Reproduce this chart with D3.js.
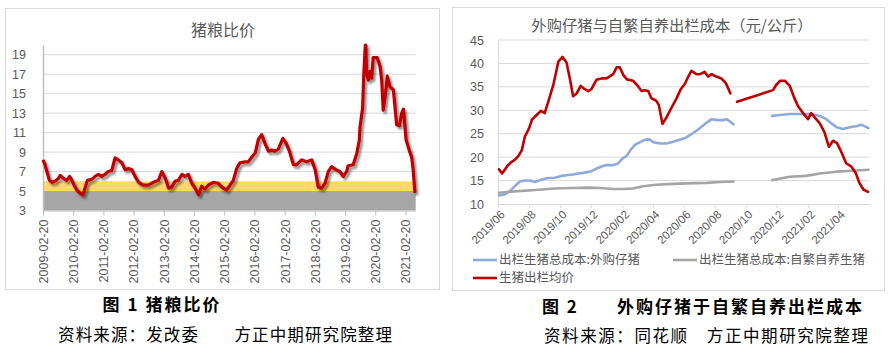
<!DOCTYPE html>
<html><head><meta charset="utf-8">
<script src="https://cdn.jsdelivr.net/npm/d3@7"></script>
<style>body{margin:0;background:#fff}svg{display:block}</style>
</head><body>
<svg id="c" width="892" height="358"></svg>
<script>
// ---------- Chart 1: 猪粮比价 ----------
const ratioTitle = "猪粮比价";
const ratioDates = ["2009-02-20","2009-03-17","2009-04-08","2009-05-08","2009-06-08","2009-07-17","2009-08-26","2009-09-16","2009-10-26","2009-12-05",
"2010-01-08","2010-02-05","2010-03-03","2010-04-05","2010-05-14","2010-06-17","2010-07-14","2010-08-10","2010-10-04","2010-11-12","2010-12-22",
"2011-01-31","2011-03-12","2011-04-20","2011-06-01","2011-07-11","2011-08-20","2011-10-01","2011-11-10","2011-12-20",
"2012-01-29","2012-03-09","2012-04-20","2012-06-17","2012-08-17","2012-10-17","2012-12-17",
"2013-01-26","2013-03-10","2013-04-18","2013-05-27","2013-07-05","2013-08-14","2013-09-26","2013-11-05","2013-12-14",
"2014-01-23","2014-03-06","2014-04-15","2014-05-24","2014-07-03","2014-08-11","2014-10-11","2014-12-11",
"2015-01-23","2015-03-20","2015-05-02","2015-06-10","2015-07-20","2015-08-29","2015-10-29","2015-12-08",
"2016-01-20","2016-02-29","2016-04-08","2016-05-18","2016-06-26","2016-08-08","2016-09-17","2016-10-26","2016-12-05",
"2017-01-29","2017-03-10","2017-04-18","2017-06-05","2017-07-14","2017-09-13","2017-11-13",
"2018-01-13","2018-02-23","2018-04-02","2018-05-14","2018-06-23","2018-08-01","2018-09-10","2018-11-01","2018-12-20",
"2019-01-29","2019-03-11","2019-03-29","2019-05-29","2019-07-10","2019-08-11","2019-08-20","2019-09-20","2019-10-05","2019-10-23","2019-10-29","2019-11-07","2019-11-29","2019-12-17",
"2020-01-08","2020-01-26","2020-03-15","2020-04-18","2020-05-08","2020-05-26","2020-06-29","2020-07-14","2020-08-17","2020-09-26","2020-11-05","2020-12-08",
"2021-01-05","2021-01-26","2021-02-26","2021-04-05","2021-05-05","2021-05-23","2021-06-14"];
const ratioValues = [8.2,7.7,7.0,6.1,5.9,6.0,6.3,6.6,6.3,6.1,
6.5,6.1,5.6,5.1,4.8,4.6,5.3,6.1,6.2,6.5,6.7,
6.5,6.7,7.0,7.1,8.4,8.2,7.9,7.2,7.3,
7.2,6.5,5.9,5.6,5.6,5.9,6.1,
7.0,6.3,5.3,5.4,6.0,6.1,6.7,6.5,6.7,
5.8,5.3,4.6,5.5,5.2,5.6,5.9,5.8,
5.4,5.1,5.6,6.1,7.3,7.9,8.0,8.0,
8.5,8.9,10.3,10.8,9.9,9.1,9.2,9.1,9.3,
10.4,9.9,9.1,7.7,7.7,8.2,8.0,
8.2,7.2,5.4,5.3,5.8,7.0,7.5,7.2,7.0,
6.5,7.0,7.6,7.7,8.8,10.2,11.6,13.5,17.1,20.0,20.0,17.1,16.4,17.3,
16.6,18.7,18.7,17.8,16.4,13.3,15.4,16.8,15.7,15.4,11.8,11.7,
13.0,13.4,10.3,9.2,8.5,7.2,4.8];
const ratioTickLabels = ["2009-02-20","2010-02-20","2011-02-20","2012-02-20","2013-02-20","2014-02-20","2015-02-20","2016-02-20","2017-02-20","2018-02-20","2019-02-20","2020-02-20","2021-02-20"];
const ratioYTicks = [3,5,7,9,11,13,15,17,19];
const ratioBands = [{lo:3, hi:5, color:"#A6A6A6"},{lo:5, hi:6, color:"#FFD966"}];
const ratioCaption = "图 1  猪粮比价";
const ratioSource = "资料来源：发改委　　方正中期研究院整理";

// ---------- Chart 2: 外购仔猪与自繁自养出栏成本 ----------
const costTitle = "外购仔猪与自繁自养出栏成本（元/公斤）";
const priceDates = ["2019-06-03","2019-06-09","2019-06-21","2019-06-28","2019-07-04","2019-07-11","2019-07-18","2019-07-24","2019-08-01","2019-08-07","2019-08-16","2019-08-25",
"2019-09-01","2019-09-08","2019-09-18","2019-09-28","2019-10-06","2019-10-14","2019-10-21","2019-10-27","2019-11-03","2019-11-11","2019-11-19","2019-11-26","2019-12-02","2019-12-12","2019-12-22",
"2020-01-01","2020-01-14","2020-01-21","2020-01-27","2020-02-03","2020-02-10","2020-02-22","2020-03-01","2020-03-10","2020-03-16","2020-03-23","2020-03-29","2020-04-08","2020-04-13","2020-04-20","2020-04-28",
"2020-05-08","2020-05-18","2020-05-26","2020-06-03","2020-06-10","2020-06-16","2020-06-26","2020-07-03","2020-07-12","2020-07-19","2020-07-26","2020-08-04","2020-08-14","2020-08-23","2020-09-01",
"2020-09-07","2020-09-14","2020-11-24","2020-11-30","2020-12-08","2020-12-17","2020-12-27",
"2021-01-05","2021-01-12","2021-01-22","2021-02-01","2021-02-07","2021-02-14","2021-02-24","2021-03-05","2021-03-14","2021-03-22","2021-03-30","2021-04-07","2021-04-17","2021-04-27","2021-05-06","2021-05-13","2021-05-21","2021-05-30"];
const priceValues = [17.4,16.5,18.3,19.0,19.4,20.2,21.5,24.4,26.1,28.0,29.0,29.9,
29.4,31.8,35.4,40.4,41.4,40.2,36.5,33.0,33.6,35.2,34.5,34.1,34.5,36.5,36.8,
36.8,37.7,39.2,39.2,37.5,36.6,36.3,35.4,34.1,34.3,34.1,32.6,32.0,31.1,27.1,28.5,
30.6,32.6,34.5,35.6,37.2,38.4,37.7,37.7,38.2,37.2,37.7,37.2,36.8,35.8,33.6,
null,31.8,34.3,35.4,36.3,36.3,35.2,
32.6,30.9,29.4,28.1,29.4,28.5,27.2,25.4,22.2,23.5,23.0,21.2,18.7,18.0,16.6,14.5,13.1,12.6];
const boughtDates = ["2019-06-03","2019-06-15","2019-06-25","2019-07-04","2019-07-14","2019-07-24","2019-08-03","2019-08-13","2019-08-23","2019-09-05","2019-09-21","2019-10-04","2019-10-17","2019-10-27","2019-11-06","2019-11-19","2019-12-02","2019-12-15","2019-12-25",
"2020-01-01","2020-01-14","2020-01-24","2020-02-01","2020-02-09","2020-02-17","2020-02-26","2020-03-05","2020-03-16","2020-03-25","2020-04-02","2020-04-15","2020-04-28","2020-05-11","2020-05-24","2020-06-06","2020-06-19","2020-07-03","2020-07-14","2020-07-26","2020-08-08","2020-08-17","2020-08-24","2020-08-31","2020-09-07",
"2020-10-15","2020-11-22","2020-12-07","2020-12-27","2021-01-15","2021-02-07","2021-02-24","2021-03-09","2021-03-19","2021-03-29","2021-04-11","2021-04-24","2021-05-07","2021-05-17","2021-05-25","2021-05-31"];
const boughtValues = [11.8,12.1,12.8,13.8,14.8,15.0,15.0,14.7,15.1,15.5,15.6,16.0,16.2,16.3,16.5,16.7,17.0,17.7,18.1,
18.3,18.3,18.7,19.7,20.2,21.5,22.6,23.1,23.7,23.8,23.2,22.9,22.9,23.3,23.7,24.2,25.1,26.2,27.2,28.1,27.9,27.9,28.1,27.6,27.0,
null,28.8,29.0,29.2,29.2,29.2,28.8,28.1,27.2,26.4,26.0,26.4,26.6,26.9,26.5,26.2];
const selfDates = ["2019-06-03","2019-07-04","2019-08-13","2019-09-21","2019-10-24","2019-11-26","2019-12-19",
"2020-01-14","2020-02-03","2020-02-22","2020-03-13","2020-04-08","2020-05-11","2020-06-06","2020-07-16","2020-08-11","2020-09-07",
"2020-10-15","2020-11-22","2020-12-27","2021-01-28","2021-02-24","2021-03-29","2021-04-30","2021-05-31"];
const selfValues = [12.4,12.7,13.0,13.3,13.4,13.5,13.4,
13.2,13.2,13.3,13.8,14.1,14.3,14.4,14.5,14.7,14.8,
null,15.1,15.8,16.0,16.5,16.9,17.1,17.3];
const costTickLabels = ["2019/06","2019/08","2019/10","2019/12","2020/02","2020/04","2020/06","2020/08","2020/10","2020/12","2021/02","2021/04"];
const costYTicks = [10,15,20,25,30,35,40,45];
const costSeriesNames = ["出栏生猪总成本:外购仔猪","出栏生猪总成本:自繁自养生猪","生猪出栏均价"];
const costColors = ["#8EA9DB","#A5A5A5","#C00000"];
const costCaption = "图 2　　外购仔猪于自繁自养出栏成本";
const costSource = "资料来源：同花顺　方正中期研究院整理";

// ---------- drawing ----------
const svg = d3.select("#c");
const numFont = "'Liberation Sans', 'Noto Sans CJK SC', sans-serif";
const cjkFont = "'Noto Sans CJK SC', sans-serif";
const txt = "#595959", grid = "#D9D9D9";
const parseD = d3.timeParse("%Y-%m-%d");

const defs = svg.append("defs");
const f = defs.append("filter").attr("id","shadow").attr("x","-5%").attr("y","-5%").attr("width","120%").attr("height","120%");
f.append("feDropShadow").attr("dx",2).attr("dy",2.5).attr("stdDeviation",1.3).attr("flood-color","#000").attr("flood-opacity",0.45);

// Frames
svg.append("rect").attr("x",5.5).attr("y",8.5).attr("width",434).attr("height",281).attr("fill","none").attr("stroke","#D9D9D9");
svg.append("rect").attr("x",452.5).attr("y",7.5).attr("width",432).attr("height",283).attr("fill","none").attr("stroke","#D9D9D9");

// ===== Chart 1 =====
{
  const x = d3.scaleTime().domain([parseD("2009-02-20"), parseD("2021-06-23")]).range([43, 415.7]);
  const y = d3.scaleLinear().domain([3, 20]).range([210.5, 45]);
  const g = svg.append("g");
  g.append("text").attr("x",223).attr("y",36).attr("text-anchor","middle").attr("font-family",cjkFont)
    .attr("font-size",16).attr("fill",txt).text(ratioTitle);
  g.selectAll("rect.band").data(ratioBands).join("rect").attr("class","band")
    .attr("x",x.range()[0]).attr("width",x.range()[1]-x.range()[0])
    .attr("y",d=>y(d.hi)).attr("height",d=>y(d.lo)-y(d.hi)).attr("fill",d=>d.color);
  g.selectAll("line.grid").data(ratioYTicks.filter(v=>v>6)).join("line").attr("class","grid")
    .attr("x1",x.range()[0]).attr("x2",x.range()[1]).attr("y1",d=>y(d)).attr("y2",d=>y(d))
    .attr("stroke",grid).attr("stroke-width",1);
  const ya = g.append("g").attr("transform","translate(43,0)")
    .call(d3.axisLeft(y).tickValues(ratioYTicks).tickSize(0).tickPadding(17));
  ya.select(".domain").attr("stroke","#BFBFBF").attr("stroke-width",1.5);
  ya.selectAll("text").attr("font-family",numFont).attr("font-size",12.5).attr("fill",txt);
  const xa = g.append("g").attr("transform","translate(0,210.5)")
    .call(d3.axisBottom(x).tickValues(ratioTickLabels.map(parseD)).tickFormat(d3.timeFormat("%Y-%m-%d")).tickSize(5).tickSizeOuter(0));
  xa.select(".domain").attr("stroke","#BFBFBF");
  xa.selectAll("line").attr("stroke","#BFBFBF");
  xa.selectAll("text").attr("font-family",numFont).attr("font-size",12.5).attr("fill",txt)
    .attr("transform","rotate(-90)").attr("text-anchor","end").attr("x",-9).attr("y",0).attr("dy","0.35em");
  const data = ratioDates.map((d,i)=>({d:parseD(d), v:ratioValues[i]}));
  g.append("path").datum(data).attr("fill","none").attr("stroke","#C00000").attr("stroke-width",3.2)
    .attr("stroke-linejoin","round").attr("filter","url(#shadow)")
    .attr("d", d3.line().x(d=>x(d.d)).y(d=>y(d.v)));
  g.append("text").attr("x",161).attr("y",311).attr("text-anchor","middle").attr("font-family",cjkFont)
    .attr("font-weight",700).attr("font-size",17).attr("fill","#000")
    .attr("textLength",117).attr("lengthAdjust","spacing").text(ratioCaption);
  g.append("text").attr("x",225).attr("y",341).attr("text-anchor","middle").attr("font-family",cjkFont)
    .attr("font-size",16.5).attr("fill","#000")
    .attr("textLength",334).attr("lengthAdjust","spacing").text(ratioSource);
}

// ===== Chart 2 =====
{
  const x = d3.scaleTime().domain([parseD("2019-06-01"), parseD("2021-06-01")]).range([498, 869]);
  const y = d3.scaleLinear().domain([10, 45]).range([204, 40]);
  const g = svg.append("g");
  g.append("text").attr("x",672).attr("y",31).attr("text-anchor","middle").attr("font-family",cjkFont)
    .attr("font-size",15.3).attr("fill",txt).text(costTitle);
  g.selectAll("line.grid").data(costYTicks.filter(v=>v>10)).join("line").attr("class","grid")
    .attr("x1",x.range()[0]).attr("x2",x.range()[1]).attr("y1",d=>y(d)).attr("y2",d=>y(d))
    .attr("stroke",grid).attr("stroke-width",1);
  const ya = g.append("g").attr("transform","translate(498,0)")
    .call(d3.axisLeft(y).tickValues(costYTicks).tickSize(0).tickPadding(14));
  ya.select(".domain").attr("stroke","#D9D9D9");
  ya.selectAll("text").attr("font-family",numFont).attr("font-size",12.5).attr("fill",txt);
  const pm = d3.timeParse("%Y/%m");
  const xa = g.append("g").attr("transform","translate(0,204)")
    .call(d3.axisBottom(x).tickValues(costTickLabels.map(pm)).tickFormat(d3.timeFormat("%Y/%m")).tickSize(4).tickSizeOuter(0));
  xa.select(".domain").attr("stroke","#D9D9D9");
  xa.selectAll("line").attr("stroke","#D9D9D9");
  xa.selectAll("text").attr("font-family",numFont).attr("font-size",11.5).attr("fill",txt)
    .attr("transform","rotate(-45)").attr("text-anchor","end").attr("x",-3).attr("y",9).attr("dy","0.35em");
  const line = d3.line().defined(d=>d.v!=null).x(d=>x(d.d)).y(d=>y(d.v));
  const series = [
    {dates:boughtDates, vals:boughtValues, color:costColors[0]},
    {dates:selfDates, vals:selfValues, color:costColors[1]},
    {dates:priceDates, vals:priceValues, color:costColors[2]}
  ];
  series.forEach(s=>{
    const data = s.dates.map((d,i)=>({d:parseD(d), v:s.vals[i]}));
    g.append("path").datum(data).attr("fill","none").attr("stroke",s.color).attr("stroke-width",2.6)
      .attr("stroke-linejoin","round").attr("stroke-linecap","round").attr("d",line);
  });
  const legendPos = [{x:473,y:260},{x:673,y:260},{x:473,y:278}];
  costSeriesNames.forEach((n,i)=>{
    const p = legendPos[i];
    g.append("line").attr("x1",p.x).attr("x2",p.x+24).attr("y1",p.y).attr("y2",p.y).attr("stroke",costColors[i]).attr("stroke-width",2.6);
    g.append("text").attr("x",p.x+26).attr("y",p.y).attr("dy","0.35em").attr("font-family",cjkFont)
      .attr("font-size",12.5).attr("fill",txt).text(n);
  });
  g.append("text").attr("x",542).attr("y",313).attr("font-family",cjkFont)
    .attr("font-weight",700).attr("font-size",17).attr("fill","#000")
    .attr("textLength",320).attr("lengthAdjust","spacing").text(costCaption);
  g.append("text").attr("x",544).attr("y",342).attr("font-family",cjkFont)
    .attr("font-size",16.5).attr("fill","#000")
    .attr("textLength",324).attr("lengthAdjust","spacing").text(costSource);
}
</script>
</body></html>
